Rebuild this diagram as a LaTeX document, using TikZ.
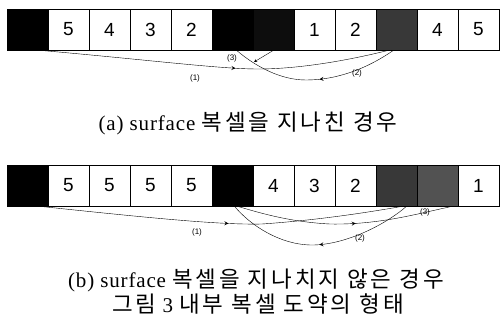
\documentclass[tikz,border=0pt]{standalone}
\usepackage{fontspec}
\usepackage{tikz}
\usetikzlibrary{decorations.markings}
\setmainfont[LetterSpace=4]{Liberation Serif}
\newfontfamily\krfont[LetterSpace=13,Scale=1.07]{Noto Sans CJK KR}
\newfontfamily\digitfont{Liberation Sans}

\begin{document}
\begin{tikzpicture}[x=1pt, y=-1pt, >=stealth,
  cell/.style={draw, rectangle, minimum width=41pt, minimum height=41pt, inner sep=0pt, line width=0.6pt, font=\digitfont\fontsize{19}{19}\selectfont},
  blackcell/.style={cell, fill=black},
  graycell/.style={cell, fill=black!78},
  lbl/.style={font=\digitfont\fontsize{8}{8}\selectfont, inner sep=1pt},
  midarrow/.style={postaction={decorate, decoration={markings, mark=at position #1 with {\arrow[scale=1.3]{>}}}}},
  captext/.style={font=\fontsize{21}{22}\selectfont, inner sep=0pt}]
\useasboundingbox (0,0) rectangle (500,323);
% (a) upper row
\node[blackcell] (a0) at (27.5,29.5) {};
\node[cell] (a1) at (68.5,29.5) {5};
\node[cell] (a2) at (109.5,29.5) {4};
\node[cell] (a3) at (150.5,29.5) {3};
\node[cell] (a4) at (191.5,29.5) {2};
\node[blackcell] (a5) at (232.5,29.5) {};
\node[blackcell, fill=black!95] (a6) at (273.5,29.5) {};
\node[cell] (a7) at (314.5,29.5) {1};
\node[cell] (a8) at (355.5,29.5) {2};
\node[graycell] (a9) at (396.5,29.5) {};
\node[cell] (a10) at (437.5,29.5) {4};
\node[cell] (a11) at (478.5,29.5) {5};
\coordinate (a1m) at (258,69);
\coordinate (a2m) at (306,80);
\coordinate (a3e) at (254,62);
\draw[midarrow=0.56] ([xshift=12pt]a0.south) .. controls (150,60) and (220,69) .. (a1m) .. controls (300,69) and (350,60) .. ([xshift=-8pt]a9.south);
\draw[midarrow=0.47] ([xshift=-3pt]a9.south) .. controls (365,70) and (335,80) .. (a2m) .. controls (280,80) and (255,66) .. ([xshift=4pt]a5.south);
\draw[->] (a6.south) -- (a3e);
\node[lbl] at (195,78) {(1)};
\node[lbl] at (357,73) {(2)};
\node[lbl] at (232,58) {(3)};
\node[captext] (capa) at (248,123) {(a) surface {\krfont 복셀을 지나친 경우}};
% (b) lower row
\node[blackcell] (b0) at (27.5,185.5) {};
\node[cell] (b1) at (68.5,185.5) {5};
\node[cell] (b2) at (109.5,185.5) {5};
\node[cell] (b3) at (150.5,185.5) {5};
\node[cell] (b4) at (191.5,185.5) {5};
\node[blackcell] (b5) at (232.5,185.5) {};
\node[cell] (b6) at (273.5,185.5) {4};
\node[cell] (b7) at (314.5,185.5) {3};
\node[cell] (b8) at (355.5,185.5) {2};
\node[graycell] (b9) at (396.5,185.5) {};
\node[graycell, fill=black!68] (b10) at (437.5,185.5) {};
\node[cell] (b11) at (478.5,185.5) {1};
\coordinate (b1m) at (262,224);
\coordinate (b2m) at (312,245);
\coordinate (b3m) at (330,224);
\draw[midarrow=0.52] ([xshift=12pt]b0.south) .. controls (150,218) and (220,225) .. (b1m) .. controls (320,220) and (370,212) .. ([xshift=6pt]b9.south);
\draw[midarrow=0.5] ([xshift=10pt]b9.south) .. controls (385,225) and (345,245) .. (b2m) .. controls (280,245) and (250,225) .. ([xshift=2pt]b5.south);
\draw[midarrow=0.55] ([xshift=5pt]b5.south) .. controls (260,213) and (290,222) .. (b3m) .. controls (380,225) and (420,213) .. ([xshift=15pt]b10.south);
\node[lbl] at (197,232) {(1)};
\node[lbl] at (360,238) {(2)};
\node[lbl] at (425,212) {(3)};
\node[captext] (capb) at (256,280) {(b) surface {\krfont 복셀을 지나치지 않은 경우}};
\node[captext] (capc) at (258,304) {{\krfont 그림} 3 {\krfont 내부 복셀 도약의 형태}};
\end{tikzpicture}
\end{document}
